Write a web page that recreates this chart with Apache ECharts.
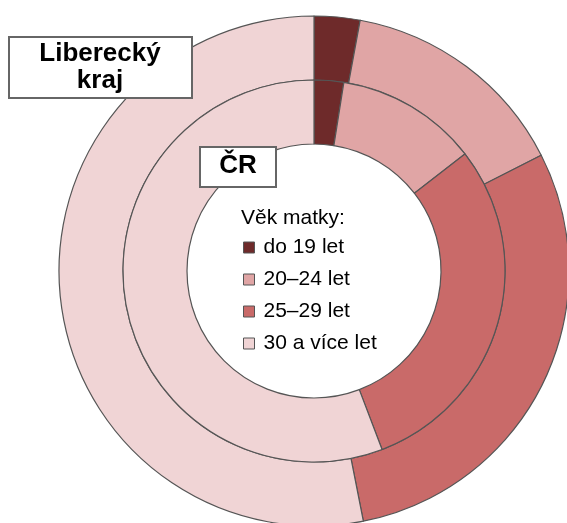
<!DOCTYPE html>
<html>
<head>
<meta charset="utf-8">
<script src="https://cdn.jsdelivr.net/npm/echarts@6/dist/echarts.min.js"></script>
<style>
  html, body { margin: 0; padding: 0; background: #fff; }
  #chart { width: 567px; height: 523px; }
</style>
</head>
<body>
<div id="chart"></div>
<script>
// Věk matky – podíl (%)
var categories = ['do 19 let', '20–24 let', '25–29 let', '30 a více let'];
var colors = ['#6e2a2a', '#e0a5a5', '#c96a69', '#f0d4d5'];
var kraj = [2.9, 14.6, 29.4, 53.1];   // Liberecký kraj (vnější kruh)
var cr = [2.5, 12.0, 29.7, 55.8];     // ČR (vnitřní kruh)

function toData(values) {
    var out = [];
    for (var i = 0; i < categories.length; i++) {
        out.push({ name: categories[i], value: values[i], itemStyle: { color: colors[i] } });
    }
    return out;
}

var myChart = echarts.init(document.getElementById('chart'), null, { renderer: 'canvas' });
var font = '"Liberation Sans", Arial, sans-serif';

var option = {
    animation: false,
    legend: {
        orient: 'vertical',
        left: 238,
        top: 232,
        itemWidth: 11,
        itemHeight: 11,
        itemGap: 11,
        icon: 'rect',
        data: categories,
        itemStyle: { borderColor: '#555', borderWidth: 1 },
        textStyle: { fontFamily: font, fontSize: 21, lineHeight: 21, color: '#000', padding: [0, 0, 0, 4] }
    },
    series: [
        {
            name: 'Liberecký kraj',
            type: 'pie',
            center: [314, 271],
            radius: [191, 255],
            startAngle: 90,
            clockwise: true,
            label: { show: false },
            labelLine: { show: false },
            emphasis: { disabled: true },
            itemStyle: { borderColor: '#555', borderWidth: 1.2 },
            data: toData(kraj)
        },
        {
            name: 'ČR',
            type: 'pie',
            center: [314, 271],
            radius: [127, 191],
            startAngle: 90,
            clockwise: true,
            label: { show: false },
            labelLine: { show: false },
            emphasis: { disabled: true },
            itemStyle: { borderColor: '#555', borderWidth: 1.2 },
            data: toData(cr)
        }
    ],
    graphic: [
        {
            type: 'rect',
            shape: { x: 9, y: 37, width: 183, height: 61 },
            style: { fill: '#fff', stroke: '#666', lineWidth: 2 },
            z: 10
        },
        {
            type: 'text',
            x: 100, y: 67,
            style: {
                text: 'Liberecký\nkraj', fontFamily: font, fontWeight: 'bold', fontSize: 26,
                lineHeight: 27, fill: '#000', align: 'center', verticalAlign: 'middle'
            },
            z: 11
        },
        {
            type: 'rect',
            shape: { x: 200, y: 147, width: 76, height: 40 },
            style: { fill: '#fff', stroke: '#666', lineWidth: 2 },
            z: 10
        },
        {
            type: 'text',
            x: 238, y: 166,
            style: {
                text: 'ČR', fontFamily: font, fontWeight: 'bold', fontSize: 26,
                fill: '#000', align: 'center', verticalAlign: 'middle'
            },
            z: 11
        },
        {
            type: 'text',
            x: 241, y: 218,
            style: {
                text: 'Věk matky:', fontFamily: font, fontSize: 21,
                fill: '#000', align: 'left', verticalAlign: 'middle'
            },
            z: 11
        }
    ]
};
myChart.setOption(option, false);
</script>
</body>
</html>
